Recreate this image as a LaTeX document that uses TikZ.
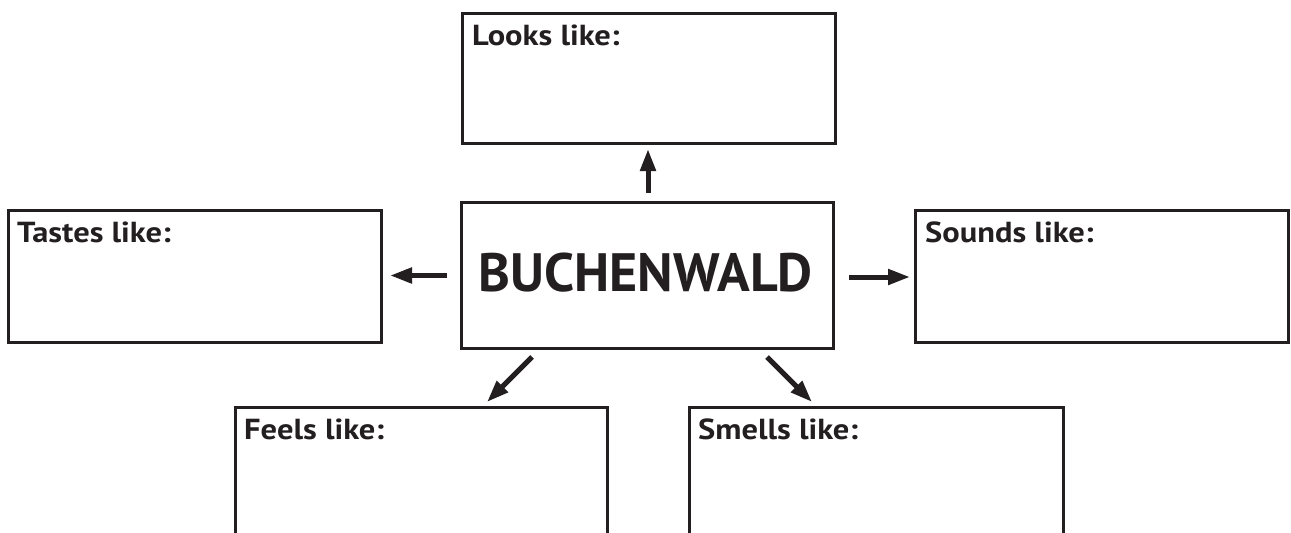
\documentclass[tikz,border=0pt]{standalone}
\usepackage{fontspec}
\setmainfont{PT Sans}
\usetikzlibrary{arrows.meta,calc}
\definecolor{ink}{HTML}{231F20}
\newcommand{\lblwide}[1]{\scalebox{1.12}[1]{#1}}
\tikzset{
  box/.style={draw=ink, line width=3pt, fill=none, minimum width=373pt, inner sep=0pt, anchor=north west},
  lbl/.style={anchor=base west, inner sep=0pt, text=ink, font=\fontsize{29}{32}\selectfont\bfseries},
  arr/.style={draw=ink, line width=5pt, -{Triangle[length=22pt,width=15pt]}}
}
\begin{document}
\begin{tikzpicture}[x=1pt,y=-1pt]
\clip (0,0) rectangle (1291,533);
\fill[white] (0,0) rectangle (1291,533);
\node[box, minimum height=130pt] (looks) at (461,12) {};
\node[box, minimum width=372pt, minimum height=146pt] (center) at (460,201) {};
\node[box, minimum height=132pt] (tastes) at (7,209) {};
\node[box, minimum height=132pt] (sounds) at (914,209) {};
\node[box, minimum width=372pt, minimum height=200pt] (feels) at (234,406) {};
\node[box, minimum width=374pt, minimum height=200pt] (smells) at (688,406) {};
\node[lbl] (tl) at ($(looks.north west)+(11,33)$) {\lblwide{Looks like:}};
\node[lbl] (tt) at ($(tastes.north west)+(10,33)$) {\lblwide{Tastes like:}};
\node[lbl] (ts) at ($(sounds.north west)+(11,33)$) {\lblwide{Sounds like:}};
\node[lbl] (tf) at ($(feels.north west)+(10,33)$) {\lblwide{Feels like:}};
\node[lbl] (tm) at ($(smells.north west)+(10,33)$) {\lblwide{Smells like:}};
\node[anchor=base, inner sep=0pt, text=ink, font=\fontsize{54}{58}\selectfont\bfseries] (title) at (645.5,291) {BUCHENWALD};
\draw[arr] ($(center.north)+(0.5,-8)$) -- ($(center.north |- looks.south)+(0.5,4)$);
\draw[arr] ($(center.west)+(-13,0)$) -- ($(center.west -| tastes.east)+(7,0)$);
\draw[arr] ($(center.east)+(14,1.5)$) -- ($(center.east -| sounds.west)+(-4,1.5)$);
\draw[arr] ($(center.south west)+(72,7)$) -- ($(feels.north west)+(253,-4)$);
\draw[arr] ($(center.south east)+(-68,7)$) -- ($(smells.north west)+(124,-4)$);
\end{tikzpicture}
\end{document}
